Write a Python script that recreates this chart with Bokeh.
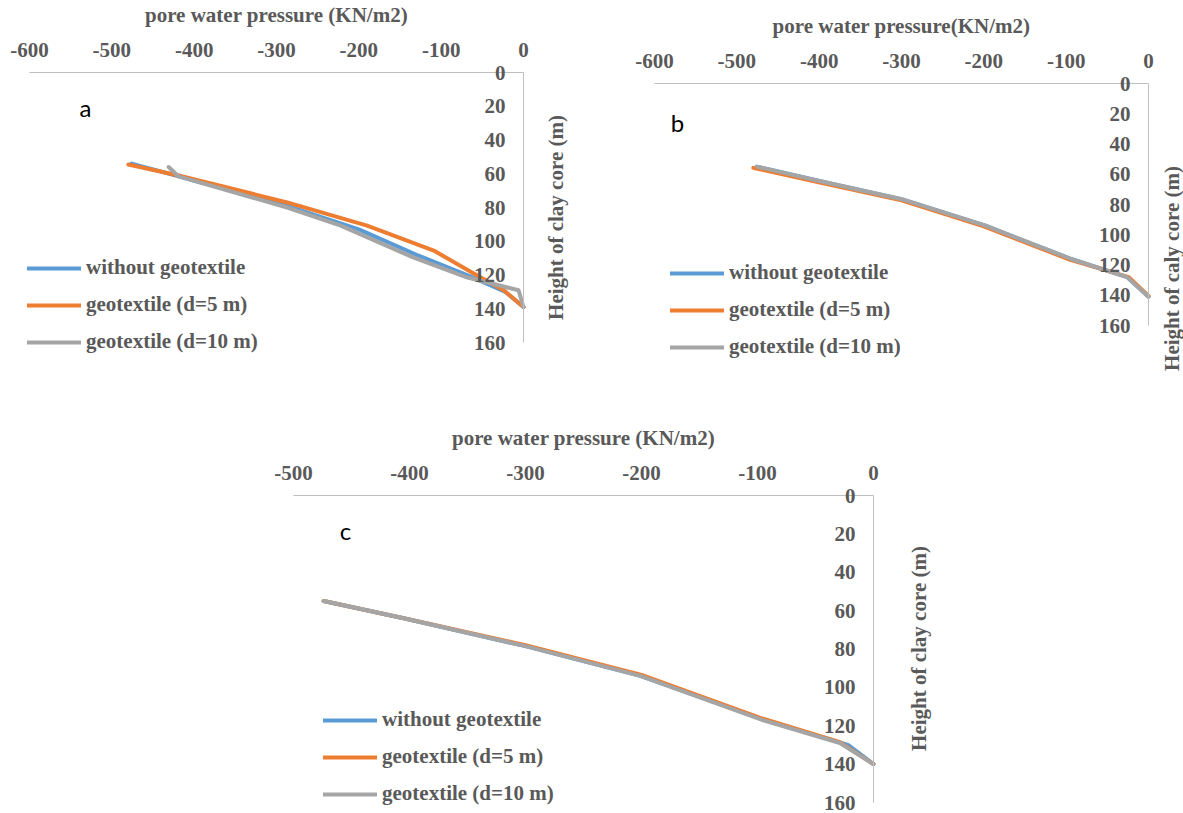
import math
from bokeh.plotting import figure
from bokeh.models import (Range1d, FixedTicker, Legend, LegendItem, Label, Spacer)
from bokeh.layouts import column, row
from bokeh.embed import file_html
from bokeh.resources import INLINE

SERIES = ["without geotextile", "geotextile (d=5 m)", "geotextile (d=10 m)"]
COLORS = ["#5B9BD5", "#ED7D31", "#A5A5A5"]
Y_TICKS = [0, 20, 40, 60, 80, 100, 120, 140, 160]
AB_X_TICKS = [-600, -500, -400, -300, -200, -100, 0]
C_X_TICKS = [-500, -400, -300, -200, -100, 0]

# panel a
a_blue_p = [-476, -419, -287, -200, -130, -64, -22, 0]
a_blue_h = [54, 61.5, 79, 93, 108, 121, 130, 139]
a_orange_p = [-480, -419, -287, -190, -109, -61, -24, 0]
a_orange_h = [54.5, 61, 77, 90.7, 105.5, 119, 129, 139]
a_gray_p = [-431, -419, -287, -222, -134, -68, -6, 0]
a_gray_h = [56, 61.6, 80, 90.7, 109.6, 121.5, 129, 139]

# panel b
b_blue_p = [-476, -393, -300, -198, -93, -26, 0]
b_blue_h = [55, 65.3, 76.5, 94, 116.2, 128, 141]
b_orange_p = [-480, -395, -300, -200, -95, -24, 0]
b_orange_h = [55.8, 66, 77.3, 94.5, 116.6, 128, 140.5]
b_gray_p = [-475, -393, -300, -198, -93, -26, 0]
b_gray_h = [55, 65.3, 76.5, 94, 116.2, 128, 141]

# panel c
c_blue_p = [-474, -405, -300, -201, -96, -22, 0]
c_blue_h = [55, 64, 78.5, 94, 116.5, 130, 140]
c_orange_p = [-474, -405, -300, -200, -97, -29, 0]
c_orange_h = [55, 64, 78, 93.5, 116, 128.5, 140]
c_gray_p = [-474, -405, -300, -201, -96, -29, 0]
c_gray_h = [55, 64, 78.5, 94, 117, 129, 140]

TXT = "#595959"
AXC = "#BFBFBF"
SERIF = "Liberation Serif"
FS = "21px"


def make_panel(xticks, xtitle, ytitle, letter, data, geo):
    # geo: page-pixel layout of this panel (frame covers the whole figure)
    L, R, T, B = geo["frame"]
    px0, pxm = geo["x0"], geo["xmin"]
    py0, pyM = geo["y0"], geo["ymax"]
    kx = (px0 - pxm) / (0 - xticks[0])
    ky = (pyM - py0) / (Y_TICKS[-1] - Y_TICKS[0])
    x_start = -(px0 - L) / kx
    x_end = (R - px0) / kx
    y_top = -(py0 - T) / ky
    y_bot = (B - py0) / ky

    def dx(px):
        return (px - px0) / kx

    def dy(py):
        return (py - py0) / ky

    p = figure(width=R - L, height=B - T, output_backend="svg",
               toolbar_location=None, x_axis_location="above",
               y_axis_location="left",
               x_range=Range1d(x_start, x_end),
               y_range=Range1d(y_bot, y_top),
               min_border_left=0, min_border_right=0,
               min_border_top=0, min_border_bottom=0)
    p.outline_line_color = None
    p.xgrid.visible = False
    p.ygrid.visible = False

    xa = p.xaxis[0]
    xa.fixed_location = 0
    xa.bounds = (xticks[0], xticks[-1])
    xa.ticker = FixedTicker(ticks=xticks)
    xa.major_label_overrides = {t: str(t) for t in xticks}
    xa.major_tick_out = 0
    xa.major_tick_in = 0
    xa.minor_tick_out = 0
    xa.minor_tick_in = 0
    xa.axis_line_color = AXC
    xa.major_label_text_font = SERIF
    xa.major_label_text_font_style = "bold"
    xa.major_label_text_font_size = FS
    xa.major_label_text_color = TXT
    xa.major_label_standoff = 16
    xa.axis_label = xtitle
    xa.axis_label_text_font = SERIF
    xa.axis_label_text_font_style = "bold"
    xa.axis_label_text_font_size = FS
    xa.axis_label_text_color = TXT
    xa.axis_label_standoff = 13

    ya = p.yaxis[0]
    ya.fixed_location = 0
    ya.bounds = (Y_TICKS[0], Y_TICKS[-1])
    ya.ticker = FixedTicker(ticks=Y_TICKS)
    ya.major_label_overrides = {t: str(t) for t in Y_TICKS}
    ya.major_tick_out = 0
    ya.major_tick_in = 0
    ya.minor_tick_out = 0
    ya.minor_tick_in = 0
    ya.axis_line_color = AXC
    ya.major_label_text_font = SERIF
    ya.major_label_text_font_style = "bold"
    ya.major_label_text_font_size = FS
    ya.major_label_text_color = TXT
    ya.major_label_standoff = 18

    # vertical axis title, reading bottom-to-top, right of the axis line
    tx, ty = geo["ytitle"]
    p.add_layout(Label(x=dx(tx), y=dy(ty), text=ytitle, angle=math.pi / 2,
                       text_align="center", text_baseline="middle",
                       text_font=SERIF, text_font_style="bold",
                       text_font_size=FS, text_color=TXT))

    items = []
    for (xs, ys), name, col in zip(data, SERIES, COLORS):
        r = p.line(xs, ys, line_color=col, line_width=4, line_join="round",
                   line_cap="round")
        items.append(LegendItem(label=name, renderers=[r]))
    leg = Legend(items=items,
                 location=(geo["leg_x"] - L, B - geo["leg_bottom"]),
                 glyph_width=54, glyph_height=20, label_height=20,
                 label_standoff=5, spacing=12, padding=0, margin=0,
                 border_line_alpha=0, background_fill_alpha=0,
                 label_text_font=SERIF, label_text_font_style="bold",
                 label_text_font_size=FS, label_text_color=TXT)
    p.add_layout(leg)

    lx, ly = geo["letter"]
    p.add_layout(Label(x=dx(lx), y=dy(ly), text=letter,
                       text_align="center", text_baseline="middle",
                       text_font="Lato", text_font_size="24px",
                       text_color="black"))
    return p


geo_a = dict(frame=(0, 580, 0, 380), x0=523, xmin=29, y0=72, ymax=342,
             leg_x=27, leg_bottom=354, letter=(85, 107), ytitle=(555, 217))
geo_b = dict(frame=(600, 1183, 0, 380), x0=1148, xmin=654, y0=83, ymax=325,
             leg_x=670, leg_bottom=359, letter=(677, 122), ytitle=(1171, 268))
geo_c = dict(frame=(240, 940, 380, 813), x0=873, xmin=293, y0=495, ymax=802,
             leg_x=323, leg_bottom=806, letter=(345, 530), ytitle=(918, 648))

pa = make_panel(AB_X_TICKS, "pore water pressure (KN/m2)",
                "Height of clay core (m)", "a",
                [(a_blue_p, a_blue_h), (a_orange_p, a_orange_h), (a_gray_p, a_gray_h)],
                geo_a)
pb = make_panel(AB_X_TICKS, "pore water pressure(KN/m2)",
                "Height of caly core (m)", "b",
                [(b_blue_p, b_blue_h), (b_orange_p, b_orange_h), (b_gray_p, b_gray_h)],
                geo_b)
pc = make_panel(C_X_TICKS, "pore water pressure (KN/m2)",
                "Height of clay core (m)", "c",
                [(c_blue_p, c_blue_h), (c_orange_p, c_orange_h), (c_gray_p, c_gray_h)],
                geo_c)

layout = column(row(pa, Spacer(width=20, height=380), pb),
                row(Spacer(width=240, height=433), pc))

open("out.html", "w").write(file_html(layout, INLINE))
